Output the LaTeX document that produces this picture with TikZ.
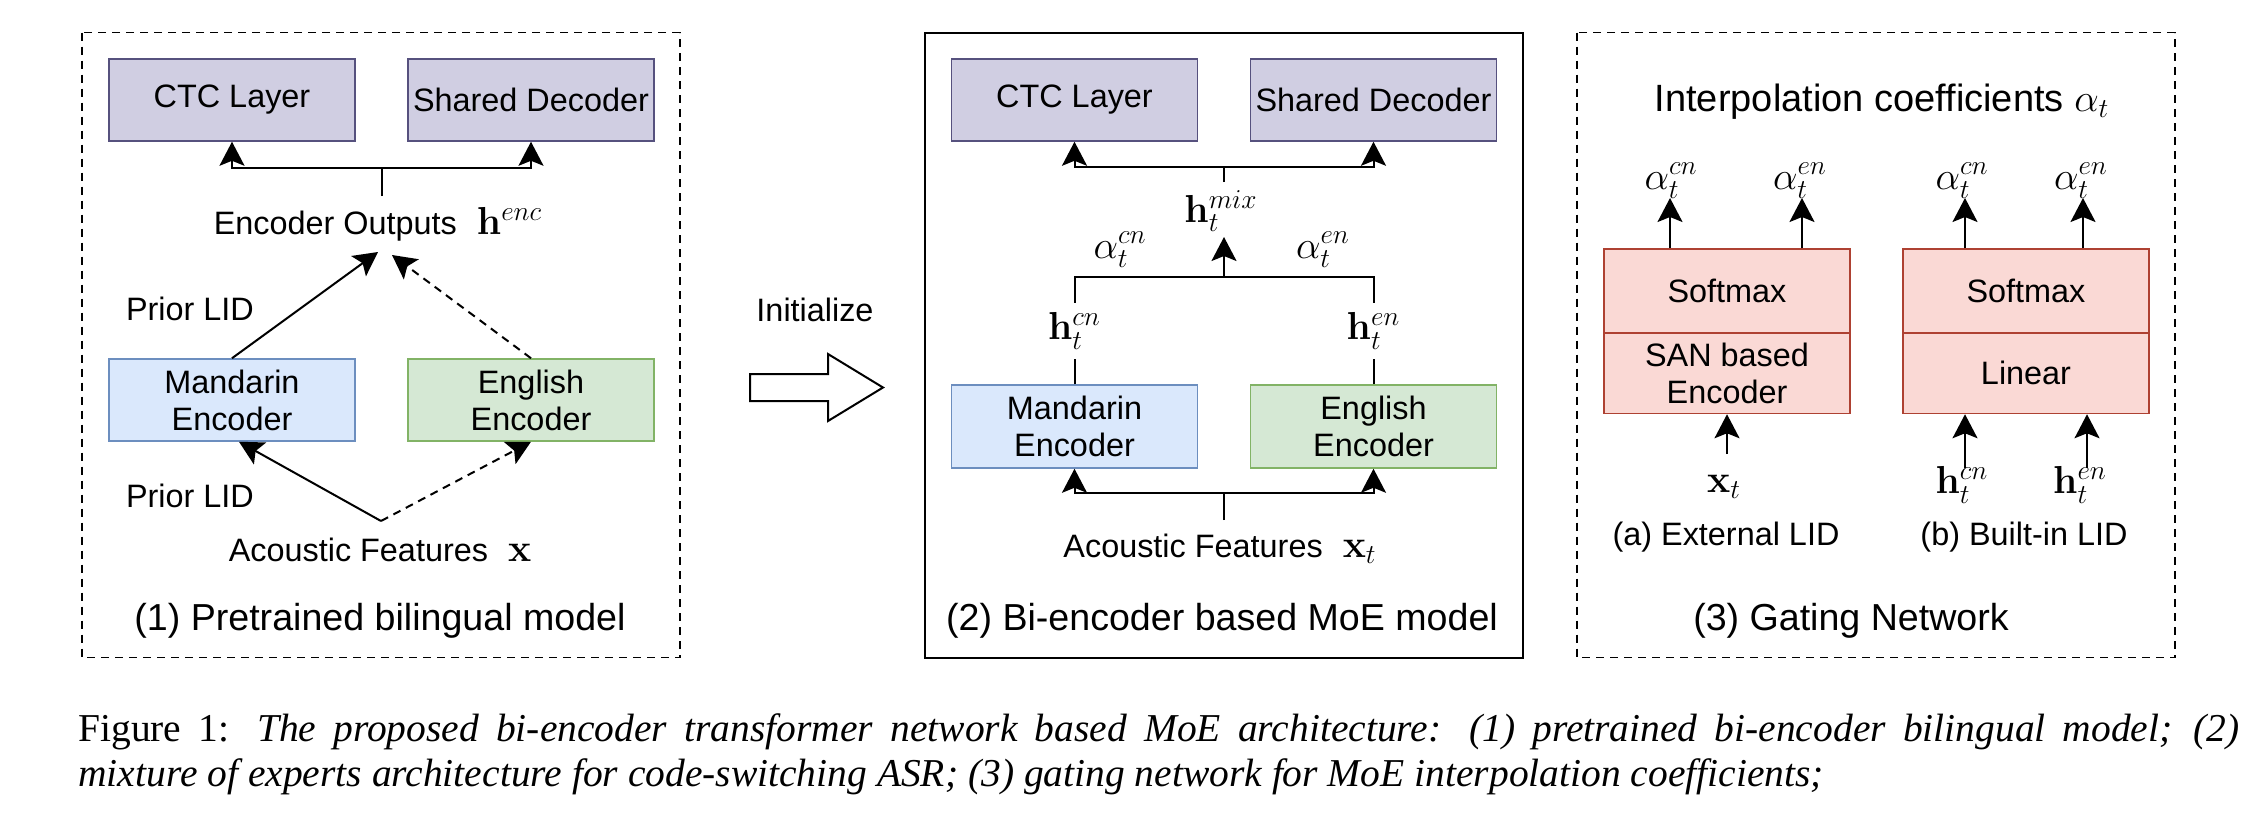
\RequirePackage{fix-cm}
\documentclass[tikz,border=0pt]{standalone}
\usepackage[no-math]{fontspec}
\setmainfont{Liberation Sans}
\newfontfamily\capfont{Liberation Serif}
\usetikzlibrary{arrows.meta,calc}
\definecolor{purF}{HTML}{D0CEE2}
\definecolor{purD}{HTML}{56517E}
\definecolor{bluF}{HTML}{DAE8FC}
\definecolor{bluD}{HTML}{6C8EBF}
\definecolor{grnF}{HTML}{D5E8D4}
\definecolor{grnD}{HTML}{82B366}
\definecolor{redF}{HTML}{FAD9D5}
\definecolor{redD}{HTML}{AE4132}
\newcommand\mth[1]{{\fontsize{19.5}{22}\selectfont$#1$}}
\begin{document}
\begin{tikzpicture}[x=0.5pt,y=-0.5pt,
  every node/.style={font=\fontsize{16.2}{18.5}\selectfont, inner sep=0pt},
  blk/.style={draw, line width=0.75pt, minimum width=123pt, minimum height=41pt, align=center, inner sep=0pt},
  purp/.style={blk, fill=purF, draw=purD},
  blu/.style={blk, fill=bluF, draw=bluD},
  grn/.style={blk, fill=grnF, draw=grnD},
  redb/.style={blk, fill=redF, draw=redD},
  conn/.style={line width=1pt},
  arr/.style={conn, -{Stealth[length=12pt,width=12.5pt,inset=2.5pt]}},
  dsh/.style={dash pattern=on 4pt off 3pt},
  ttl/.style={font=\fontsize{18.8}{22}\selectfont},
]
\fill[white] (0,0) rectangle (2244,820);
\useasboundingbox (0,0) rectangle (2244,820);

% ---------- Panel 1 ----------
\draw[line width=0.9pt, dsh] (82,32.5) rectangle (680,657.5);
\node[purp] (ctc1) at (232,100) {CTC Layer};
\node[purp] (sd1) at (531,100) {Shared Decoder};
\node[blu] (man1) at (232,400) {Mandarin\\Encoder};
\node[grn] (en1) at (531,400) {English\\Encoder};
\node (eo1) at (378,224) {Encoder Outputs\hspace{10pt}\mth{\mathbf{h}^{enc}}};
\node (pl1) at (190,309) {Prior LID};
\node (pl2) at (190,496) {Prior LID};
\node (af1) at (380,550) {Acoustic Features\hspace{10pt}\mth{\mathbf{x}}};
\node[ttl] (t1) at (380,621) {(1) Pretrained bilingual model};
\coordinate (j1) at (382,168);
\coordinate (s1) at (382,196);
\coordinate (eoa) at (378,252);
\coordinate (eob) at (392,255);
\coordinate (afo) at (381,521);
\draw[conn] (s1) -- (j1);
\draw[arr] (j1) -| (ctc1.south);
\draw[arr] (j1) -| (sd1.south);
\draw[arr] (man1.north) -- (eoa);
\draw[arr,dsh] (en1.north) -- (eob);
\draw[arr] (afo) -- ([xshift=3.5pt]man1.south);
\draw[arr,dsh] (afo) -- (en1.south);

% ---------- Initialize ----------
\node (init) at (815,310) {Initialize};
\draw[line width=1pt] (750,374) -- (828,374) -- (828,354) -- (883,387.5) -- (828,421) -- (828,401) -- (750,401) -- cycle;

% ---------- Panel 2 ----------
\draw[line width=1pt] (925,32.5) rectangle (1523,657.5);
\node[purp] (ctc2) at (1074.5,100) {CTC Layer};
\node[purp] (sd2) at (1373.5,100) {Shared Decoder};
\node[blu, minimum height=41.5pt] (man2) at (1074.5,426.5) {Mandarin\\Encoder};
\node[grn, minimum height=41.5pt] (en2) at (1373.5,426.5) {English\\Encoder};
\node (hmix) at (1221,211) {\mth{\mathbf{h}_t^{mix}}};
\node (acn2) at (1120,250) {\mth{\alpha_t^{cn}}};
\node (aen2) at (1323,250) {\mth{\alpha_t^{en}}};
\node[minimum height=28pt] (hcn2) at (1074.5,331) {\mth{\mathbf{h}_t^{cn}}};
\node[minimum height=28pt] (hen2) at (1373.5,331) {\mth{\mathbf{h}_t^{en}}};
\node (af2) at (1220,549) {Acoustic Features\hspace{10pt}\mth{\mathbf{x}_t}};
\node[ttl] (t2) at (1222,621) {(2) Bi-encoder based MoE model};
\coordinate (j2t) at (1224,167);
\coordinate (s2t) at (1224,182);
\coordinate (j2m) at (1224,277);
\coordinate (mixtip) at (1224,237);
\coordinate (j2b) at (1224,493);
\coordinate (s2b) at (1224,520);
\draw[conn] (s2t) -- (j2t);
\draw[arr] (j2t) -| (ctc2.south);
\draw[arr] (j2t) -| (sd2.south);
\draw[conn] (man2.north) -- (hcn2.south);
\draw[conn] (en2.north) -- (hen2.south);
\draw[conn] (hcn2.north) |- (j2m) -| (hen2.north);
\draw[arr] (j2m) -- (mixtip);
\draw[conn] (s2b) -- (j2b);
\draw[arr] (j2b) -| (man2.south);
\draw[arr] (j2b) -| (en2.south);

% ---------- Panel 3 ----------
\draw[line width=0.9pt, dsh] (1577,32.5) rectangle (2175,657.5);
\node[ttl, font=\fontsize{19}{22}\selectfont] (t3a) at (1882,102) {Interpolation coefficients \mth{\alpha_t}};
\node[redb, minimum height=42pt] (sma) at (1727,291) {Softmax};
\node[redb, minimum height=40.25pt] (sana) at (1727,373.25) {SAN based\\Encoder};
\node[redb, minimum height=42pt] (smb) at (2026,291) {Softmax};
\node[redb, minimum height=40.25pt] (linb) at (2026,373.25) {Linear};
\node (acna) at (1671,181) {\mth{\alpha_t^{cn}}};
\node (aena) at (1800,181) {\mth{\alpha_t^{en}}};
\node (acnb) at (1962,181) {\mth{\alpha_t^{cn}}};
\node (aenb) at (2081,181) {\mth{\alpha_t^{en}}};
\coordinate (ta1) at (1670,198);
\coordinate (ta2) at (1802,198);
\coordinate (tb1) at (1965,198);
\coordinate (tb2) at (2083,198);
\draw[arr] (sma.north -| ta1) -- (ta1);
\draw[arr] (sma.north -| ta2) -- (ta2);
\draw[arr] (smb.north -| tb1) -- (tb1);
\draw[arr] (smb.north -| tb2) -- (tb2);
\node (xta) at (1724,487) {\mth{\mathbf{x}_t}};
\node (hcnb) at (1962,485) {\mth{\mathbf{h}_t^{cn}}};
\node (henb) at (2080,485) {\mth{\mathbf{h}_t^{en}}};
\coordinate (xa) at (1727,454);
\coordinate (hb1) at (1965,468);
\coordinate (hb2) at (2087,468);
\draw[arr] (xa) -- (xa |- sana.south);
\draw[arr] (hb1) -- (hb1 |- linb.south);
\draw[arr] (hb2) -- (hb2 |- linb.south);
\node (la) at (1726,537) {(a) External LID};
\node (lb) at (2024,537) {(b) Built-in LID};
\node[ttl] (t3) at (1851,621) {(3) Gating Network};

% ---------- Caption ----------
\node[anchor=base west] (cap1) at (78,741) {\capfont\fontsize{19.75}{22.5}\selectfont\makebox[1080.5pt][s]{Figure 1: \textit{The proposed bi-encoder transformer network based MoE architecture: (1) pretrained bi-encoder bilingual model; (2)}}};
\node[anchor=base west] (cap2) at (78,786) {\capfont\fontsize{19.75}{22.5}\selectfont\textit{mixture of experts architecture for code-switching ASR; (3) gating network for MoE interpolation coefficients;}};
\end{tikzpicture}
\end{document}
